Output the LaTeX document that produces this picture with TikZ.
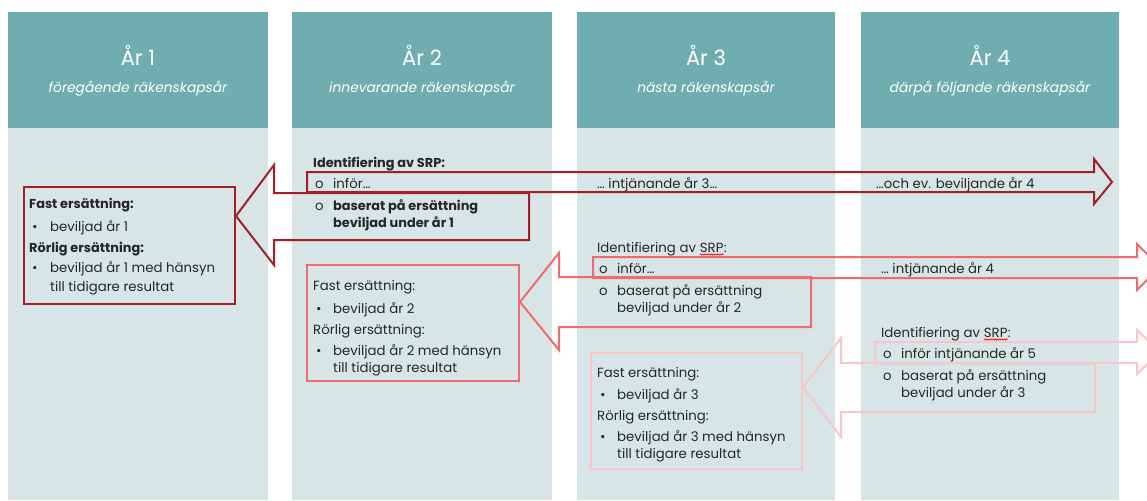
\documentclass[tikz,border=0pt]{standalone}
\usepackage{fontspec}
\setmainfont{Poppins}
\usetikzlibrary{decorations.pathmorphing}
\definecolor{hdrc}{HTML}{70ADB1}
\definecolor{bodyc}{HTML}{D8E5E7}
\definecolor{txtc}{HTML}{262626}
\definecolor{dred}{HTML}{A31F26}
\definecolor{salm}{HTML}{EF6B6D}
\definecolor{pinkc}{HTML}{F8C6C6}
\begin{document}
\begin{tikzpicture}[x=1pt,y=-1pt,
  t/.style={anchor=base west, inner sep=0pt, text=txtc, font=\fontsize{13.3}{15}\selectfont},
  tb/.style={t, font=\fontsize{12.9}{15}\selectfont\bfseries},
  colbody/.style={fill=bodyc, draw=none, minimum width=260pt, minimum height=372pt, inner sep=0pt, anchor=north west},
  colhead/.style={fill=hdrc, draw=none, minimum width=260pt, minimum height=116pt, inner sep=0pt, anchor=north west},
  title/.style={anchor=base, inner sep=0pt, text=white, font=\fontsize{21}{24}\selectfont},
  subtitle/.style={anchor=base, inner sep=0pt, text=white, font=\fontsize{13.8}{16}\selectfont\itshape},
  arrowline/.style={line width=2pt, line join=miter},
  boxline/.style={draw, line width=2pt, fill=none, inner sep=0pt, anchor=north west},
  wave/.style={draw=red, line width=0.6pt, decorate, decoration={snake, amplitude=0.6pt, segment length=2.2pt}}
]
\useasboundingbox (0,0) rectangle (1147,500);
\fill[white] (0,0) rectangle (1147,500);
\clip (0,0) rectangle (1147,500);

% columns
\node[colbody] (c1) at (8,128) {};
\node[colbody] (c2) at (292,128) {};
\node[colbody, minimum width=258pt] (c3) at (577,128) {};
\node[colbody, minimum width=258pt] (c4) at (861,128) {};
\node[colhead] (h1) at (8,12) {};
\node[colhead] (h2) at (292,12) {};
\node[colhead, minimum width=258pt] (h3) at (577,12) {};
\node[colhead, minimum width=258pt] (h4) at (861,12) {};

\node[title] (h1t) at (138,66) {År 1};
\node[title] (h2t) at (422,66) {År 2};
\node[title] (h3t) at (706,66) {År 3};
\node[title] (h4t) at (990,66) {År 4};
\node[subtitle] (h1s) at (138,93) {föregående räkenskapsår};
\node[subtitle] (h2s) at (422,93) {innevarande räkenskapsår};
\node[subtitle] (h3s) at (706,93) {nästa räkenskapsår};
\node[subtitle] (h4s) at (990,93) {därpå följande räkenskapsår};

% column 1 box text
\node[tb] (a1) at (29,208) {Fast ersättning:};
\node[t] (a2b) at (32,231) {•};
\node[t] (a2) at (50,231) {beviljad år 1};
\node[tb] (a3) at (29,252) {Rörlig ersättning:};
\node[t] (a4b) at (32,272) {•};
\node[t] (a4) at (50,272) {beviljad år 1 med hänsyn};
\node[t] (a5) at (50,291) {till tidigare resultat};

% column 2 SRP
\node[tb] (b1) at (313,167) {Identifiering av SRP:};
\node[t] (b2o) at (315,188) {o};
\node[t] (b2) at (333,188) {inför…};
\node[t] (b3o) at (315,210) {o};
\node[tb] (b3) at (333,210) {baserat på ersättning};
\node[tb] (b4) at (333,227) {beviljad under år 1};

% box 2 text
\node[t] (d1) at (313,290) {Fast ersättning:};
\node[t] (d2b) at (316,313) {•};
\node[t] (d2) at (333,313) {beviljad år 2};
\node[t] (d3) at (313,334) {Rörlig ersättning:};
\node[t] (d4b) at (316,355) {•};
\node[t] (d4) at (333,355) {beviljad år 2 med hänsyn};
\node[t] (d5) at (333,372) {till tidigare resultat};

% column 3 texts
\node[t] (e1) at (597,188) {… intjänande år 3…};
\node[t] (f1) at (597,252) {Identifiering av\ \null};
\node[t] (f1s) at (f1.base east) {SRP};
\node[t] (f1c) at (f1s.base east) {:};
\node[t] (f2o) at (599,273) {o};
\node[t] (f2) at (617,273) {inför…};
\node[t] (f3o) at (599,295) {o};
\node[t] (f3) at (617,295) {baserat på ersättning};
\node[t] (f4) at (617,312) {beviljad under år 2};

% box 3 text
\node[t] (g1) at (597,377) {Fast ersättning:};
\node[t] (g2b) at (600,399) {•};
\node[t] (g2) at (617,399) {beviljad år 3};
\node[t] (g3) at (597,420) {Rörlig ersättning:};
\node[t] (g4b) at (600,441) {•};
\node[t] (g4) at (617,441) {beviljad år 3 med hänsyn};
\node[t] (g5) at (617,458) {till tidigare resultat};

% column 4 texts
\node[t] (k1) at (876,188) {…och ev. beviljande år 4};
\node[t] (k2) at (881,273) {… intjänande år 4};
\node[t] (m1) at (881,337) {Identifiering av\ \null};
\node[t] (m1s) at (m1.base east) {SRP};
\node[t] (m1c) at (m1s.base east) {:};
\node[t] (m2o) at (883,358) {o};
\node[t] (m2) at (901,358) {inför intjänande år 5};
\node[t] (m3o) at (883,380) {o};
\node[t] (m3) at (901,380) {baserat på ersättning};
\node[t] (m4) at (901,397) {beviljad under år 3};

% spell-check waves
\draw[wave] ([yshift=-2.5pt]f1s.base west) -- ([yshift=-2.5pt]f1s.base east);
\draw[wave] ([yshift=-2.5pt]m1s.base west) -- ([yshift=-2.5pt]m1s.base east);

% boxes
\node[boxline, draw=dred, minimum width=211pt, minimum height=117pt] (box1) at (23,186) {};
\node[boxline, draw=salm, minimum width=212pt, minimum height=116pt] (box2) at (306,264) {};
\node[boxline, draw=pinkc, minimum width=211pt, minimum height=116pt] (box3) at (590,352) {};

% arrows year 1
\draw[arrowline, dred] (307,172) -- (1094,172) -- (1094,159) -- (1112,182) -- (1094,204) -- (1094,192) -- (307,192) -- cycle;
\draw[arrowline, dred] (box1.east |- 0,216) -- (274,165) -- (274,193) -- (529,193) -- (529,240) -- (274,240) -- (274,265) -- cycle;
% arrows year 2
\draw[arrowline, salm] (593,257) -- (1137,257) -- (1137,244) -- (1160,267) -- (1137,290) -- (1137,278) -- (593,278) -- cycle;
\draw[arrowline, salm] (box2.east |- 0,302) -- (559,253) -- (559,277) -- (811,277) -- (811,327) -- (559,327) -- (559,350) -- cycle;
% arrows year 3
\draw[arrowline, pinkc] (875,342) -- (1137,342) -- (1137,330) -- (1160,352) -- (1137,374) -- (1137,363) -- (875,363) -- cycle;
\draw[arrowline, pinkc] (box3.east |- 0,387) -- (841,338) -- (841,363) -- (1095,363) -- (1095,412) -- (841,412) -- (841,437) -- cycle;
\end{tikzpicture}
\end{document}
